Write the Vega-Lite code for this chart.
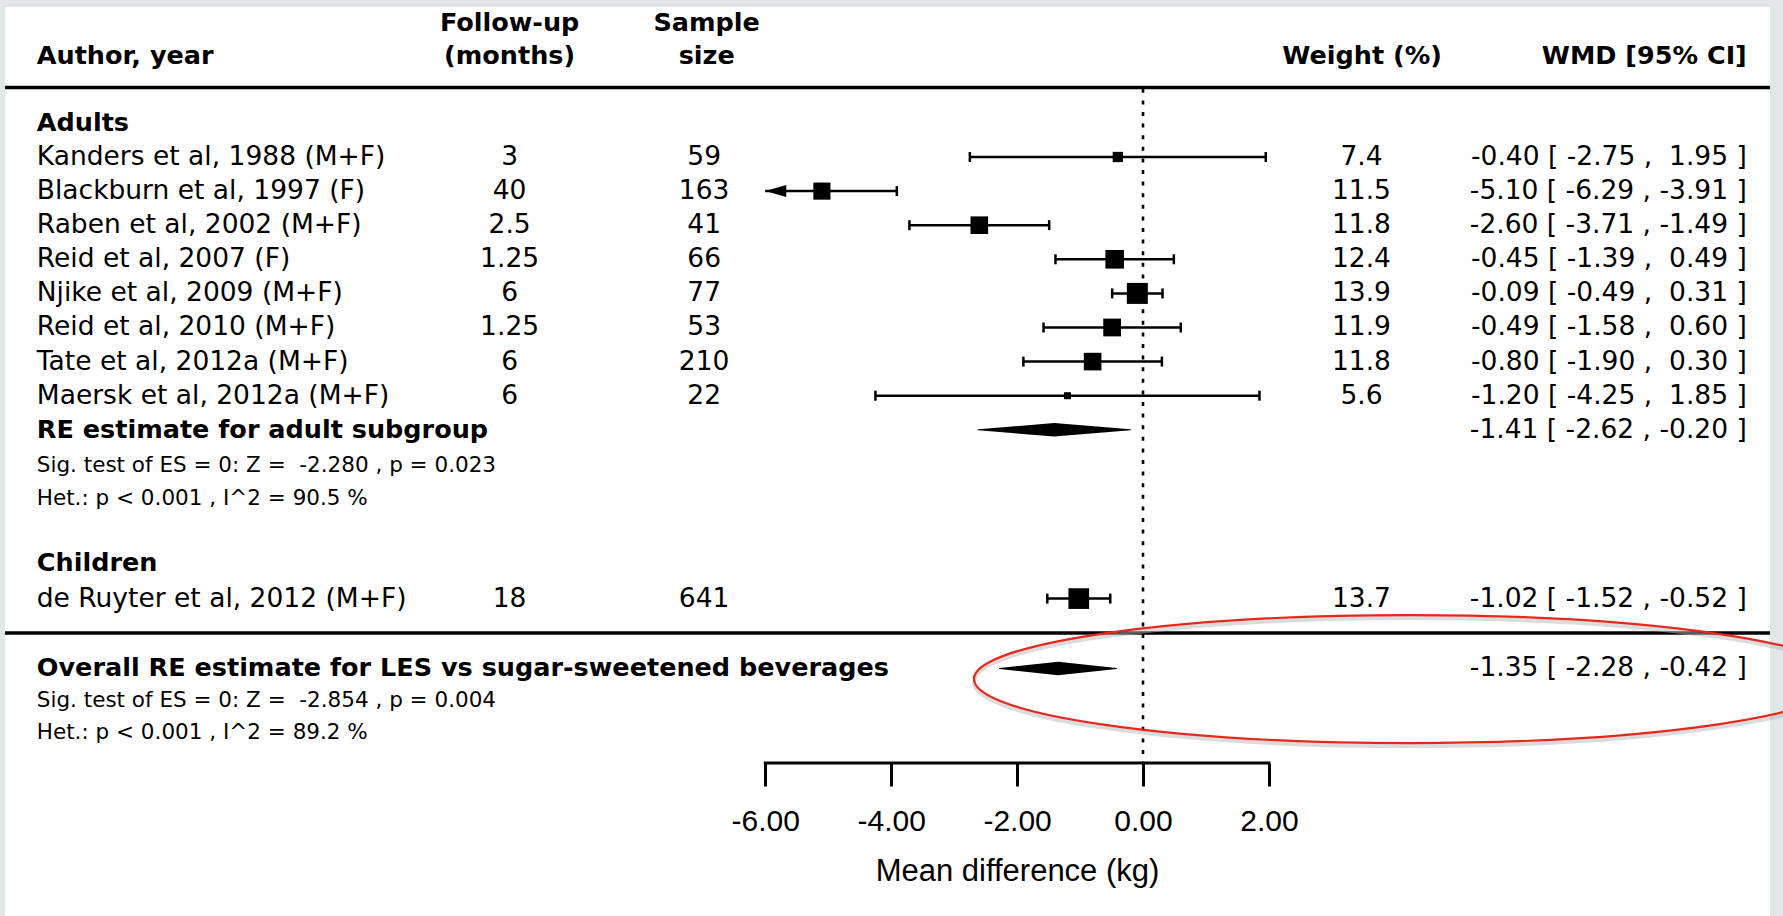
{
"$schema": "https://vega.github.io/schema/vega-lite/v6.json",
"width": 1765, "height": 909, "autosize": "none",
"padding": {"left": 5, "top": 7, "right": 13, "bottom": 0},
"background": "#e1e6e6",
"config": {"view": {"fill": "white", "stroke": null}, "axis": {"grid": false}},
"resolve": {"scale": {"size": "independent"}},
"datasets": {
"studies": [
{"author":"Kanders et al, 1988 (M+F)","fu":"3","n":"59","w":7.4,"est":-0.40,"lo":-2.75,"hi":1.95,"lo_draw":-2.75,"ci":"-0.40 [ -2.75 , \u00a01.95 ]","r":1},
{"author":"Blackburn et al, 1997 (F)","fu":"40","n":"163","w":11.5,"est":-5.10,"lo":-6.29,"hi":-3.91,"lo_draw":-6,"ci":"-5.10 [ -6.29 , -3.91 ]","r":2},
{"author":"Raben et al, 2002 (M+F)","fu":"2.5","n":"41","w":11.8,"est":-2.60,"lo":-3.71,"hi":-1.49,"lo_draw":-3.71,"ci":"-2.60 [ -3.71 , -1.49 ]","r":3},
{"author":"Reid et al, 2007 (F)","fu":"1.25","n":"66","w":12.4,"est":-0.45,"lo":-1.39,"hi":0.49,"lo_draw":-1.39,"ci":"-0.45 [ -1.39 , \u00a00.49 ]","r":4},
{"author":"Njike et al, 2009 (M+F)","fu":"6","n":"77","w":13.9,"est":-0.09,"lo":-0.49,"hi":0.31,"lo_draw":-0.49,"ci":"-0.09 [ -0.49 , \u00a00.31 ]","r":5},
{"author":"Reid et al, 2010 (M+F)","fu":"1.25","n":"53","w":11.9,"est":-0.49,"lo":-1.58,"hi":0.60,"lo_draw":-1.58,"ci":"-0.49 [ -1.58 , \u00a00.60 ]","r":6},
{"author":"Tate et al, 2012a (M+F)","fu":"6","n":"210","w":11.8,"est":-0.80,"lo":-1.90,"hi":0.30,"lo_draw":-1.90,"ci":"-0.80 [ -1.90 , \u00a00.30 ]","r":7},
{"author":"Maersk et al, 2012a (M+F)","fu":"6","n":"22","w":5.6,"est":-1.20,"lo":-4.25,"hi":1.85,"lo_draw":-4.25,"ci":"-1.20 [ -4.25 , \u00a01.85 ]","r":8},
{"author":"de Ruyter et al, 2012 (M+F)","fu":"18","n":"641","w":13.7,"est":-1.02,"lo":-1.52,"hi":-0.52,"lo_draw":-1.52,"ci":"-1.02 [ -1.52 , -0.52 ]","r":13.95}
],
"summaries": [
{"label":"RE estimate for adult subgroup","ci":"-1.41 [ -2.62 , -0.20 ]","r":9},
{"label":"Overall RE estimate for LES vs sugar-sweetened beverages","ci":"-1.35 [ -2.28 , -0.42 ]","r":16}
],
"diamonds": [
{"d":"adult","x":-2.62,"r":9,"m":0},
{"d":"adult","x":-1.41,"r":9,"m":1},
{"d":"adult","x":-0.20,"r":9,"m":0},
{"d":"overall","x":-2.28,"r":16,"m":0},
{"d":"overall","x":-1.35,"r":16,"m":1},
{"d":"overall","x":-0.42,"r":16,"m":0}
],
"groups": [
{"t":"Adults","r":0},
{"t":"Children","r":12.9}
],
"headers": [
{"t":"Author, year","col":"author","r":-1.97},
{"t":"Follow-up","col":"fu","r":-2.93},
{"t":"(months)","col":"fu","r":-1.97},
{"t":"Sample","col":"n","r":-2.93},
{"t":"size","col":"n","r":-1.97},
{"t":"Weight (%)","col":"w","r":-1.97},
{"t":"WMD [95% CI]","col":"ci","r":-1.97}
],
"stats": [
{"t":"Sig. test of ES = 0: Z = \u00a0-2.280 , p = 0.023","r":10.05},
{"t":"Het.: p < 0.001 , I^2 = 90.5 %","r":11.02},
{"t":"Sig. test of ES = 0: Z = \u00a0-2.854 , p = 0.004","r":16.94},
{"t":"Het.: p < 0.001 , I^2 = 89.2 %","r":17.88}
],
"refline": [{"x":0,"top":-1.0,"bottom":18.77}],
"axisline": [{"from":-6,"to":2,"r":18.77}],
"separators": [{"r":-1.04},{"r":14.96}]
},
"layer": [
{"data":{"name":"separators"},
 "mark":{"type":"rule","color":"black","strokeWidth":3.5},
 "encoding":{"y":{"field":"r","type":"quantitative","scale":{"domain":[-3.3988,23.2581],"nice":false,"zero":false,"reverse":true},"axis":null}}},
{"data":{"name":"refline"},
 "mark":{"type":"rule","color":"black","strokeWidth":2.6,"strokeDash":[4,7.6]},
 "encoding":{"x":{"field":"x","type":"quantitative","scale":{"domain":[-18.075,9.9587],"nice":false,"zero":false}},
  "y":{"field":"top","type":"quantitative","scale":{"domain":[-3.3988,23.2581],"nice":false,"zero":false,"reverse":true},"axis":null},
  "y2":{"field":"bottom"}}},
{"data":{"name":"studies"},
 "mark":{"type":"rule","color":"black","strokeWidth":2.5},
 "encoding":{"x":{"field":"lo_draw","type":"quantitative","scale":{"domain":[-18.075,9.9587],"nice":false,"zero":false}},
  "x2":{"field":"hi"},
  "y":{"field":"r","type":"quantitative","scale":{"domain":[-3.3988,23.2581],"nice":false,"zero":false,"reverse":true},"axis":null}}},
{"data":{"name":"studies"},"transform":[{"filter":"datum.lo >= -6"}],
 "mark":{"type":"tick","orient":"vertical","color":"black","thickness":2.5,"size":10,"opacity":1},
 "encoding":{"x":{"field":"lo","type":"quantitative","scale":{"domain":[-18.075,9.9587],"nice":false,"zero":false}},
  "y":{"field":"r","type":"quantitative","scale":{"domain":[-3.3988,23.2581],"nice":false,"zero":false,"reverse":true},"axis":null}}},
{"data":{"name":"studies"},
 "mark":{"type":"tick","orient":"vertical","color":"black","thickness":2.5,"size":10,"opacity":1},
 "encoding":{"x":{"field":"hi","type":"quantitative","scale":{"domain":[-18.075,9.9587],"nice":false,"zero":false}},
  "y":{"field":"r","type":"quantitative","scale":{"domain":[-3.3988,23.2581],"nice":false,"zero":false,"reverse":true},"axis":null}}},
{"data":{"name":"studies"},"transform":[{"filter":"datum.lo < -6"}],
 "mark":{"type":"point","shape":"M0,0L2,-0.571L2,0.571Z","filled":true,"color":"black","opacity":1,"size":441,"strokeWidth":0},
 "encoding":{"x":{"field":"lo_draw","type":"quantitative","scale":{"domain":[-18.075,9.9587],"nice":false,"zero":false}},
  "y":{"field":"r","type":"quantitative","scale":{"domain":[-3.3988,23.2581],"nice":false,"zero":false,"reverse":true},"axis":null}}},
{"data":{"name":"studies"},
 "mark":{"type":"point","shape":"square","filled":true,"color":"black","opacity":1,"strokeWidth":0},
 "encoding":{"x":{"field":"est","type":"quantitative","scale":{"domain":[-18.075,9.9587],"nice":false,"zero":false},
   "axis":{"orient":"bottom","offset":-153,"domain":false,"grid":false,"values":[-6,-4,-2,0,2],
    "labelExpr":"replace(format(datum.value, '.2f'), '\u2212', '-')",
    "ticks":true,"tickSize":23,"tickWidth":3,"tickColor":"black",
    "labelFont":"Liberation Sans","labelFontSize":30,"labelColor":"black","labelPadding":20,"labelBaseline":"top",
    "labelFlush":false,"labelOverlap":false,"labelBound":false,
    "title":"Mean difference (kg)","titleFont":"Liberation Sans","titleFontSize":31,"titleFontWeight":"normal","titleColor":"black",
    "titleX":1012,"titleY":117,"titleBaseline":"alphabetic","titleAlign":"center","titleAngle":0}},
  "y":{"field":"r","type":"quantitative","scale":{"domain":[-3.3988,23.2581],"nice":false,"zero":false,"reverse":true},"axis":null},
  "size":{"field":"w","type":"quantitative","scale":{"type":"pow","exponent":2,"domain":[5.6,13.9],"range":[49,441],"zero":false},"legend":null}}},
{"data":{"name":"diamonds"},
 "mark":{"type":"trail","color":"black"},
 "encoding":{"x":{"field":"x","type":"quantitative","scale":{"domain":[-18.075,9.9587],"nice":false,"zero":false}},
  "y":{"field":"r","type":"quantitative","scale":{"domain":[-3.3988,23.2581],"nice":false,"zero":false,"reverse":true},"axis":null},
  "detail":{"field":"d","type":"nominal"},
  "size":{"field":"m","type":"quantitative","scale":{"type":"linear","domain":[0,1],"range":[0,13.5],"zero":false},"legend":null}}},
{"data":{"name":"axisline"},
 "mark":{"type":"rule","color":"black","strokeWidth":3,"strokeCap":"square"},
 "encoding":{"x":{"field":"from","type":"quantitative","scale":{"domain":[-18.075,9.9587],"nice":false,"zero":false}},
  "x2":{"field":"to"},
  "y":{"field":"r","type":"quantitative","scale":{"domain":[-3.3988,23.2581],"nice":false,"zero":false,"reverse":true},"axis":null}}},
{"data":{"name":"studies"},
 "mark":{"type":"text","align":"left","baseline":"middle","font":"DejaVu Sans","fontSize":26.5,"color":"black"},
 "encoding":{"x":{"datum":-17.57,"type":"quantitative","scale":{"domain":[-18.075,9.9587],"nice":false,"zero":false}},
  "y":{"field":"r","type":"quantitative","scale":{"domain":[-3.3988,23.2581],"nice":false,"zero":false,"reverse":true},"axis":null},
  "text":{"field":"author","type":"nominal"}}},
{"data":{"name":"studies"},
 "mark":{"type":"text","align":"center","baseline":"middle","font":"DejaVu Sans","fontSize":26.5,"color":"black"},
 "encoding":{"x":{"datum":-10.06,"type":"quantitative","scale":{"domain":[-18.075,9.9587],"nice":false,"zero":false}},
  "y":{"field":"r","type":"quantitative","scale":{"domain":[-3.3988,23.2581],"nice":false,"zero":false,"reverse":true},"axis":null},
  "text":{"field":"fu","type":"nominal"}}},
{"data":{"name":"studies"},
 "mark":{"type":"text","align":"center","baseline":"middle","font":"DejaVu Sans","fontSize":26.5,"color":"black"},
 "encoding":{"x":{"datum":-6.97,"type":"quantitative","scale":{"domain":[-18.075,9.9587],"nice":false,"zero":false}},
  "y":{"field":"r","type":"quantitative","scale":{"domain":[-3.3988,23.2581],"nice":false,"zero":false,"reverse":true},"axis":null},
  "text":{"field":"n","type":"nominal"}}},
{"data":{"name":"studies"},
 "mark":{"type":"text","align":"center","baseline":"middle","font":"DejaVu Sans","fontSize":26.5,"color":"black"},
 "encoding":{"x":{"datum":3.47,"type":"quantitative","scale":{"domain":[-18.075,9.9587],"nice":false,"zero":false}},
  "y":{"field":"r","type":"quantitative","scale":{"domain":[-3.3988,23.2581],"nice":false,"zero":false,"reverse":true},"axis":null},
  "text":{"field":"w","type":"quantitative","format":".1f"}}},
{"data":{"name":"studies"},
 "mark":{"type":"text","align":"right","baseline":"middle","font":"DejaVu Sans","fontSize":26.5,"color":"black"},
 "encoding":{"x":{"datum":9.59,"type":"quantitative","scale":{"domain":[-18.075,9.9587],"nice":false,"zero":false}},
  "y":{"field":"r","type":"quantitative","scale":{"domain":[-3.3988,23.2581],"nice":false,"zero":false,"reverse":true},"axis":null},
  "text":{"field":"ci","type":"nominal"}}},
{"data":{"name":"summaries"},
 "mark":{"type":"text","align":"left","baseline":"middle","font":"DejaVu Sans","fontSize":25.5,"fontWeight":"bold","color":"black"},
 "encoding":{"x":{"datum":-17.57,"type":"quantitative","scale":{"domain":[-18.075,9.9587],"nice":false,"zero":false}},
  "y":{"field":"r","type":"quantitative","scale":{"domain":[-3.3988,23.2581],"nice":false,"zero":false,"reverse":true},"axis":null},
  "text":{"field":"label","type":"nominal"}}},
{"data":{"name":"summaries"},
 "mark":{"type":"text","align":"right","baseline":"middle","font":"DejaVu Sans","fontSize":26.5,"color":"black"},
 "encoding":{"x":{"datum":9.59,"type":"quantitative","scale":{"domain":[-18.075,9.9587],"nice":false,"zero":false}},
  "y":{"field":"r","type":"quantitative","scale":{"domain":[-3.3988,23.2581],"nice":false,"zero":false,"reverse":true},"axis":null},
  "text":{"field":"ci","type":"nominal"}}},
{"data":{"name":"groups"},
 "mark":{"type":"text","align":"left","baseline":"middle","font":"DejaVu Sans","fontSize":25.5,"fontWeight":"bold","color":"black"},
 "encoding":{"x":{"datum":-17.57,"type":"quantitative","scale":{"domain":[-18.075,9.9587],"nice":false,"zero":false}},
  "y":{"field":"r","type":"quantitative","scale":{"domain":[-3.3988,23.2581],"nice":false,"zero":false,"reverse":true},"axis":null},
  "text":{"field":"t","type":"nominal"}}},
{"data":{"name":"headers"},"transform":[{"filter":"datum.col === 'author'"}],
 "mark":{"type":"text","align":"left","baseline":"middle","font":"DejaVu Sans","fontSize":25.5,"fontWeight":"bold","color":"black"},
 "encoding":{"x":{"datum":-17.57,"type":"quantitative","scale":{"domain":[-18.075,9.9587],"nice":false,"zero":false}},
  "y":{"field":"r","type":"quantitative","scale":{"domain":[-3.3988,23.2581],"nice":false,"zero":false,"reverse":true},"axis":null},
  "text":{"field":"t","type":"nominal"}}},
{"data":{"name":"headers"},"transform":[{"filter":"datum.col === 'fu'"}],
 "mark":{"type":"text","align":"center","baseline":"middle","font":"DejaVu Sans","fontSize":25.5,"fontWeight":"bold","color":"black"},
 "encoding":{"x":{"datum":-10.06,"type":"quantitative","scale":{"domain":[-18.075,9.9587],"nice":false,"zero":false}},
  "y":{"field":"r","type":"quantitative","scale":{"domain":[-3.3988,23.2581],"nice":false,"zero":false,"reverse":true},"axis":null},
  "text":{"field":"t","type":"nominal"}}},
{"data":{"name":"headers"},"transform":[{"filter":"datum.col === 'n'"}],
 "mark":{"type":"text","align":"center","baseline":"middle","font":"DejaVu Sans","fontSize":25.5,"fontWeight":"bold","color":"black"},
 "encoding":{"x":{"datum":-6.93,"type":"quantitative","scale":{"domain":[-18.075,9.9587],"nice":false,"zero":false}},
  "y":{"field":"r","type":"quantitative","scale":{"domain":[-3.3988,23.2581],"nice":false,"zero":false,"reverse":true},"axis":null},
  "text":{"field":"t","type":"nominal"}}},
{"data":{"name":"headers"},"transform":[{"filter":"datum.col === 'w'"}],
 "mark":{"type":"text","align":"center","baseline":"middle","font":"DejaVu Sans","fontSize":25.5,"fontWeight":"bold","color":"black"},
 "encoding":{"x":{"datum":3.48,"type":"quantitative","scale":{"domain":[-18.075,9.9587],"nice":false,"zero":false}},
  "y":{"field":"r","type":"quantitative","scale":{"domain":[-3.3988,23.2581],"nice":false,"zero":false,"reverse":true},"axis":null},
  "text":{"field":"t","type":"nominal"}}},
{"data":{"name":"headers"},"transform":[{"filter":"datum.col === 'ci'"}],
 "mark":{"type":"text","align":"right","baseline":"middle","font":"DejaVu Sans","fontSize":25.5,"fontWeight":"bold","color":"black"},
 "encoding":{"x":{"datum":9.59,"type":"quantitative","scale":{"domain":[-18.075,9.9587],"nice":false,"zero":false}},
  "y":{"field":"r","type":"quantitative","scale":{"domain":[-3.3988,23.2581],"nice":false,"zero":false,"reverse":true},"axis":null},
  "text":{"field":"t","type":"nominal"}}},
{"data":{"name":"stats"},
 "mark":{"type":"text","align":"left","baseline":"middle","font":"DejaVu Sans","fontSize":21.5,"color":"black"},
 "encoding":{"x":{"datum":-17.57,"type":"quantitative","scale":{"domain":[-18.075,9.9587],"nice":false,"zero":false}},
  "y":{"field":"r","type":"quantitative","scale":{"domain":[-3.3988,23.2581],"nice":false,"zero":false,"reverse":true},"axis":null},
  "text":{"field":"t","type":"nominal"}}},
{"data":{"values":[{"cx":4.24,"cy":16.31}]},
 "mark":{"type":"point","shape":"M-1,0A1,0.1468 0 1,1 1,0A1,0.1468 0 1,1 -1,0Z","filled":false,"color":"#b8b8b8","opacity":0.5,"size":760384,"strokeWidth":4,"yOffset":3},
 "encoding":{"x":{"field":"cx","type":"quantitative","scale":{"domain":[-18.075,9.9587],"nice":false,"zero":false}},
  "y":{"field":"cy","type":"quantitative","scale":{"domain":[-3.3988,23.2581],"nice":false,"zero":false,"reverse":true},"axis":null}}},
{"data":{"values":[{"cx":4.24,"cy":16.31}]},
 "mark":{"type":"point","shape":"M-1,0A1,0.1468 0 1,1 1,0A1,0.1468 0 1,1 -1,0Z","filled":false,"color":"#e5271c","opacity":1,"size":760384,"strokeWidth":2.2},
 "encoding":{"x":{"field":"cx","type":"quantitative","scale":{"domain":[-18.075,9.9587],"nice":false,"zero":false}},
  "y":{"field":"cy","type":"quantitative","scale":{"domain":[-3.3988,23.2581],"nice":false,"zero":false,"reverse":true},"axis":null}}}
]
}
